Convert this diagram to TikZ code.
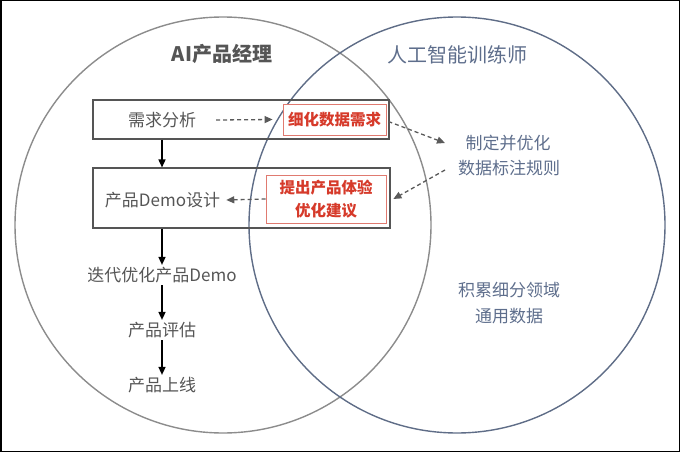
\documentclass[tikz,border=0pt]{standalone}
\usepackage{fontspec}
\setmainfont{Noto Sans CJK SC}
\usetikzlibrary{arrows.meta}
\definecolor{txtgray}{HTML}{555555}
\definecolor{lcirc}{HTML}{8C8C8C}
\definecolor{rcirc}{HTML}{5F6D87}
\definecolor{bluetxt}{HTML}{5E6E8C}
\definecolor{redtxt}{HTML}{D63A2A}
\definecolor{redline}{HTML}{E07A70}
\definecolor{boxline}{HTML}{555555}
\definecolor{dashcol}{HTML}{5A5A5A}
\tikzset{
  titletxt/.style={font=\fontsize{20}{24}\selectfont\bfseries, inner sep=0pt},
  bodytxt/.style={font=\fontsize{17}{20}\selectfont, text=txtgray, inner sep=2pt},
  bluebody/.style={font=\fontsize{17}{20}\selectfont, text=bluetxt, inner sep=2pt},
  mainbox/.style={draw=boxline, line width=1.1pt, inner sep=0pt},
  redbox/.style={draw=redline, line width=0.8pt, fill=white, text=redtxt,
    font=\fontsize{15.5}{23}\selectfont\bfseries, align=center, inner sep=0pt},
  solidarr/.style={line width=1.5pt, black, -{Triangle[length=8pt,width=7pt]}},
  dasharr/.style={line width=1.3pt, dashcol, dash pattern=on 4pt off 3pt,
    -{Triangle[length=8pt,width=7pt]}}
}
\begin{document}
\begin{tikzpicture}[x=1pt,y=-1pt]
\useasboundingbox (0,0) rectangle (680,452);
\draw[black, line width=1.5pt] (0.75,0.75) rectangle (679.25,451.25);
% circles
\draw[lcirc, line width=1.4pt] (223,225) circle[radius=208];
\draw[rcirc, line width=1.4pt] (457,225) circle[radius=208];
% titles
\node[titletxt, text=txtgray] (tl) at (222,54) {AI产品经理};
\node[titletxt, text=bluetxt, font=\fontsize{20}{24}\selectfont] (tr) at (457,55) {人工智能训练师};
% main boxes
\node[mainbox, minimum width=296pt, minimum height=39pt] (b1) at (241,119.5) {};
\node[mainbox, minimum width=297pt, minimum height=60pt] (b2) at (241.5,198) {};
\node[bodytxt] (t1) at (162,120) {需求分析};
\node[bodytxt] (t2) at (162.5,200) {产品Demo设计};
% red boxes
\node[redbox, minimum width=103pt, minimum height=31pt] (r1) at (334.5,119.5) {细化数据需求};
\node[redbox, minimum width=120pt, minimum height=48pt] (r2) at (326,199) {提出产品体验\\优化建议};
% left flow
\node[bodytxt] (t3) at (162,275) {迭代优化产品Demo};
\node[bodytxt] (t4) at (162,330) {产品评估};
\node[bodytxt] (t5) at (162,385) {产品上线};
\draw[solidarr] (t1 |- b1.south) -- (t1 |- b2.north);
\draw[solidarr] (t1 |- b2.south) -- (t3.north);
\draw[solidarr] (t3.south) -- (t4.north);
\draw[solidarr] (t4.south) -- (t5.north);
% right texts
\node[bluebody] (rt1) at (508,143) {制定并优化};
\node[bluebody] (rt2) at (509,168) {数据标注规则};
\node[bluebody] (rb1) at (509,290) {积累细分领域};
\node[bluebody] (rb2) at (509,316) {通用数据};
\coordinate (c1) at (445,143);
\coordinate (c2) at (445,170);
% dashed arrows
\draw[dasharr] ([xshift=18pt]t1.east) -- ([xshift=-10pt]r1.west);
\draw[dasharr] (r2.west) -- ([xshift=4pt]t2.east);
\draw[dasharr] ([shift={(2pt,-2pt)}]r1.east) -- (c1);
\draw[dasharr] (c2) -- ([xshift=7pt]r2.east);
\end{tikzpicture}
\end{document}
